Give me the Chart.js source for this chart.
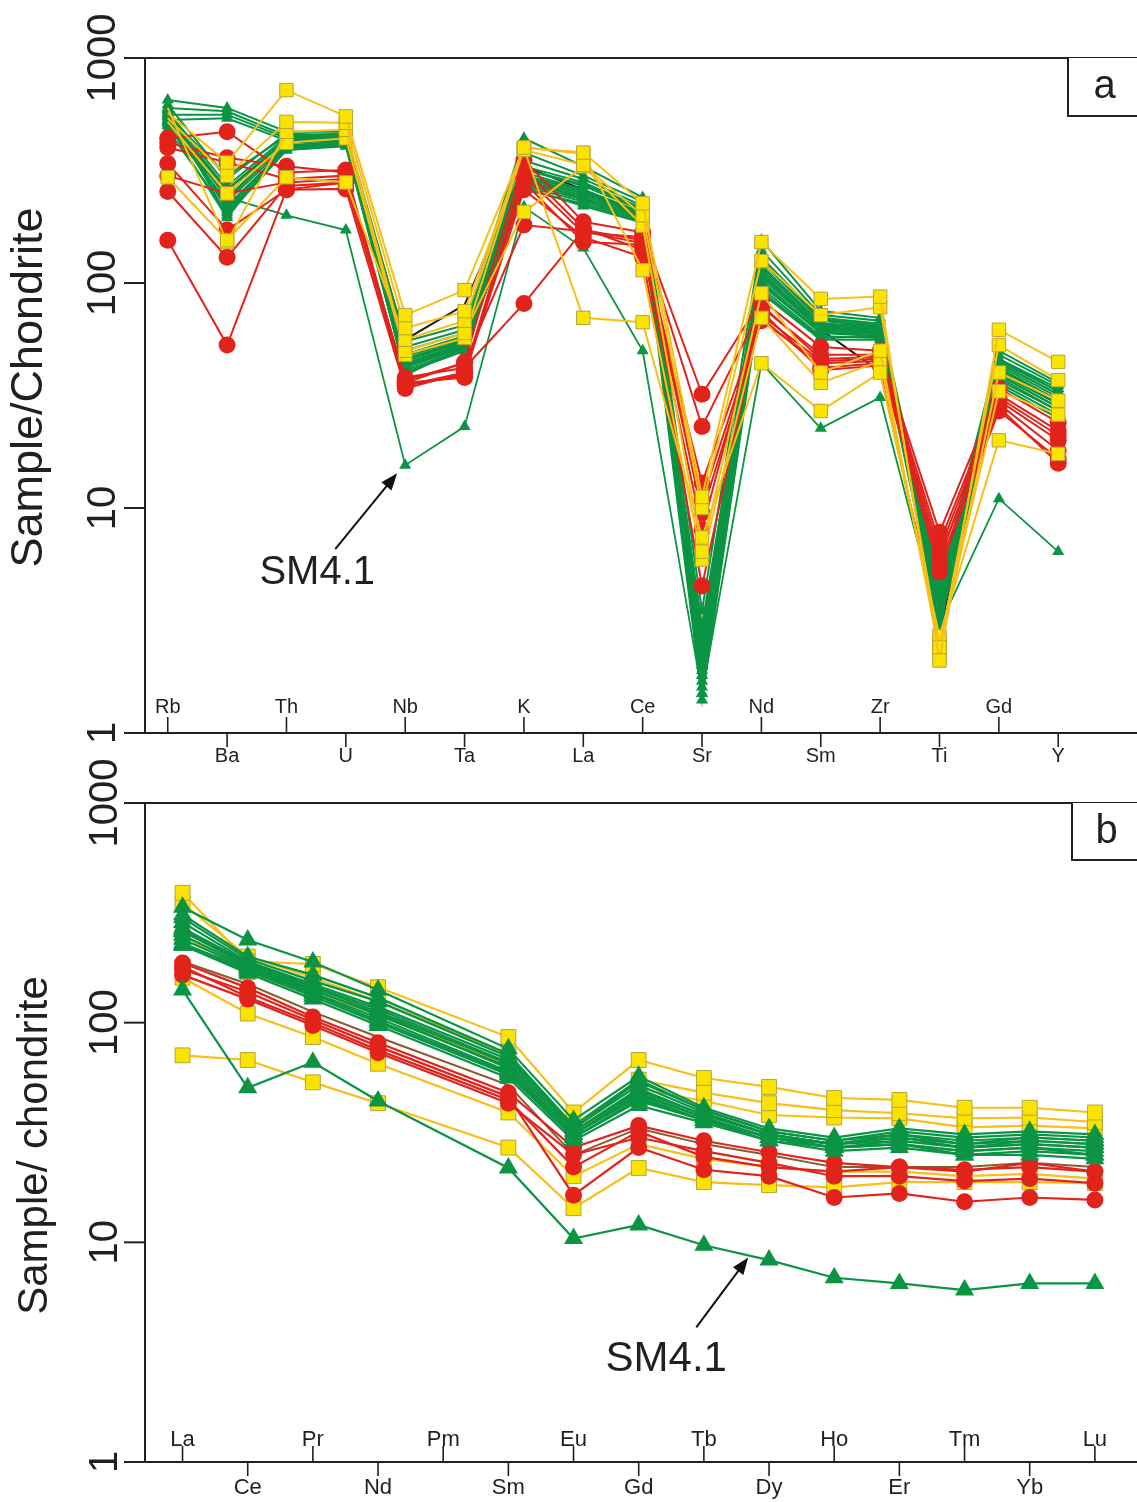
<!DOCTYPE html>
<html>
<head>
<meta charset="utf-8">
<script src="https://cdn.jsdelivr.net/npm/chart.js@4.4.1/dist/chart.umd.min.js"></script>
<style>
  html, body { margin: 0; background: #fff; }
  #wrap { position: relative; width: 1137px; height: 1502px; overflow: hidden; }
  canvas { position: absolute; left: 0; }
  #chartA { top: 0; }
  #chartB { top: 745px; }
</style>
</head>
<body>
<div id="wrap">
  <canvas id="chartA" width="1137" height="790"></canvas>
  <canvas id="chartB" width="1137" height="757"></canvas>
</div>
<script>
// ---- categories / ticks ----
const spiderElements = ['Rb', 'Ba', 'Th', 'U', 'Nb', 'Ta', 'K', 'La', 'Ce', 'Sr', 'Nd', 'Sm', 'Zr', 'Ti', 'Gd', 'Y'];
const reeElements = ['La', 'Ce', 'Pr', 'Nd', 'Pm', 'Sm', 'Eu', 'Gd', 'Tb', 'Dy', 'Ho', 'Er', 'Tm', 'Yb', 'Lu'];
const logTicks = [1, 10, 100, 1000];

// ---- panel a: spider diagram (Rb ... Y) ----
const spiderGreen = [
    [650, 600, 470, 470, 55, 65, 440, 330, 240, 3.5, 155, 75, 70, 4.5, 50, 36],
    [600, 580, 450, 460, 52, 62, 380, 300, 230, 2.8, 140, 72, 68, 4.2, 48, 35],
    [560, 560, 440, 450, 50, 60, 350, 290, 220, 2.5, 130, 70, 66, 4.0, 46, 34],
    [530, 540, 430, 440, 48, 58, 330, 280, 215, 2.2, 125, 68, 64, 3.8, 45, 33],
    [620, 290, 460, 455, 47, 57, 320, 270, 210, 2.0, 120, 66, 63, 3.6, 44, 32],
    [580, 270, 445, 445, 46, 56, 310, 260, 205, 1.9, 115, 65, 62, 3.5, 43, 31],
    [550, 250, 430, 435, 45, 55, 300, 255, 200, 1.8, 110, 64, 61, 3.4, 42, 30],
    [520, 240, 420, 430, 44, 54, 290, 250, 198, 1.7, 108, 63, 60, 3.3, 41, 30],
    [500, 230, 410, 425, 43, 53, 285, 245, 195, 2.1, 105, 62, 60, 3.2, 40, 29],
    [540, 220, 400, 420, 42, 52, 280, 240, 192, 2.4, 100, 61, 59, 3.1, 39, 28],
    [600, 210, 395, 415, 41, 51, 275, 235, 190, 1.5, 98, 60, 58, 3.0, 38, 27],
    [570, 200, 390, 410, 40, 50, 270, 230, 188, 2.6, 95, 58, 57, 3.4, 37, 27],
    [510, 195, 420, 440, 39, 52, 260, 225, 186, 1.4, 92, 57, 58, 3.6, 36, 26],
    [560, 260, 435, 450, 45, 56, 300, 260, 205, 3.0, 118, 66, 64, 3.9, 44, 32],
    [590, 235, 425, 430, 43, 54, 295, 250, 200, 1.6, 112, 63, 61, 3.7, 42, 30],
    [530, 215, 405, 420, 42, 53, 285, 238, 193, 2.0, 102, 60, 60, 3.2, 39, 28],
    [480, 205, 390, 405, 40, 50, 265, 220, 185, 2.3, 90, 56, 56, 3.0, 35, 25],
    [560, 300, 450, 460, 48, 58, 320, 275, 212, 1.8, 128, 69, 65, 4.1, 46, 33]
];
const spiderSM41 = [520, 240, 200, 172, 15.5, 23, 218, 143, 50, 1.5, 44, 22.6, 31, 3.0, 11, 6.4];
const spiderRed = [
    [440, 470, 310, 318, 36, 44.5, 352, 187, 168, 32, 84, 52, 50, 7.8, 34, 24],
    [400, 343, 290, 300, 35, 40, 300, 167, 160, 23, 78, 48, 48, 7.0, 32, 22],
    [340, 172, 260, 262, 34, 40, 280, 152, 148, 12.9, 72, 45, 46, 6.0, 30, 20],
    [255, 130, 270, 280, 37, 44, 181, 170, 150, 10.8, 70, 42, 44, 6.0, 29, 18],
    [155, 53, 260, 280, 38, 42, 81, 172, 155, 9.5, 68, 44, 45, 5.2, 28, 15.8],
    [420, 360, 330, 310, 36, 38, 320, 175, 140, 8, 80, 46, 47, 6.5, 31, 21],
    [300, 250, 280, 290, 35, 39, 260, 160, 130, 4.5, 75, 41, 43, 5.6, 27, 16.5]
];
const spiderYellow = [
    [570, 343, 720, 550, 72, 93, 400, 380, 226, 11.2, 152, 85, 87, 2.1, 62, 44.6],
    [540, 300, 520, 515, 63, 75, 390, 335, 200, 10, 125, 72, 78, 2.4, 53, 37],
    [295, 155, 295, 280, 56, 68, 395, 70, 67, 7.4, 44, 27, 40, 2.7, 20, 17.4],
    [600, 152, 470, 480, 50, 60, 207, 330, 180, 6.4, 90, 40, 50, 2.3, 40, 30],
    [520, 250, 420, 440, 48, 57, 400, 375, 114, 5.9, 70, 36, 45, 2.5, 33, 26]
];
const spiderBlack = [540, 260, 430, 440, 56, 80, 330, 260, 200, 2.5, 110, 62, 40.5, 2.8, 40, 29];

// ---- panel b: REE pattern (La ... Lu, Pm not analysed) ----
const reeGreen = [
    [335, 238, 189, 141, null, 76, 36, 57, 41, 33, 30, 33, 31, 32, 31],
    [310, 200, 165, 130, null, 72, 34, 55, 40, 32, 29, 32, 30, 31, 30],
    [286, 190, 150, 118, null, 68, 33, 52, 39, 31, 28, 31, 28, 30, 29],
    [264, 185, 145, 112, null, 65, 32, 50, 38, 31, 28, 30, 27, 29, 28],
    [250, 180, 140, 110, null, 62, 31, 48, 37, 30, 27, 29, 27, 28, 27],
    [240, 178, 137, 105, null, 60, 31, 46, 36, 30, 27, 28, 26, 27, 26],
    [225, 172, 132, 100, null, 58, 30, 44, 36, 29, 27, 28, 25, 26, 25],
    [225, 168, 128, 97, null, 56, 29, 42, 35, 29, 26, 27, 25, 25, 24],
    [300, 195, 155, 125, null, 70, 33, 54, 40, 32, 29, 31, 29, 30, 29],
    [270, 188, 147, 115, null, 66, 32, 49, 38, 31, 28, 30, 28, 29, 28],
    [230, 175, 135, 102, null, 59, 30, 45, 36, 30, 27, 28, 26, 27, 25],
    [260, 183, 142, 108, null, 63, 31, 47, 37, 30, 28, 29, 27, 28, 27]
];
const reeSM41 = [141, 50.5, 66, 44, null, 21.8, 10.4, 12, 9.7, 8.3, 6.9, 6.5, 6.06, 6.5, 6.5];
const reeRed = [
    [187, 144, 106, 81, null, 48, 27, 34, 29, 25.7, 23, 22, 21.4, 22, 21],
    [180, 131, 100, 75, null, 44.5, 22, 32, 24.5, 22, 21, 22, 21, 23, 21],
    [175, 138, 103, 78, null, 46, 16.4, 27, 21.4, 20, 16, 16.7, 15.3, 16, 15.6],
    [165, 128, 97, 73, null, 43, 25, 30, 26, 23, 20, 20, 19, 19.5, 18.6]
];
const reeYellow = [
    [390, 190, 185, 145, null, 86, 39, 67.6, 56, 51, 45.4, 44.5, 41, 41, 39],
    [350, 200, 160, 125, null, 72, 33, 55, 48, 43, 40, 38.7, 36.7, 37, 35.3],
    [250, 170, 135, 110, null, 64, 31, 50, 44, 38, 37, 36.7, 33.4, 34, 33],
    [160, 110, 86, 65, null, 39, 20, 28, 24, 22, 21, 21, 20, 20.5, 19.5],
    [71, 67.6, 53.5, 43, null, 27, 14.3, 21.8, 18.8, 18.2, 17.8, 18.8, 18.8, 18.8, 18.6]
];
const reeBrown = [190, 150, 112, 86, null, 52, 25, 33, 28, 25, 22, 22, 22, 23, 22];

// ---- styling ----
const GREEN = '#0a9444';
const RED = '#e2231c';
const YELLOW = '#fbe300';
const YELLOW_LINE = '#f7bf17';
const INK = '#231f20';
const FONT = '"Liberation Sans", Arial, Helvetica, sans-serif';

function toPoints(vals) {
    return vals.map((v, i) => (v == null ? null : { x: i, y: v })).filter(Boolean);
}

function makeSets(rows, style) {
    return rows.map(r => Object.assign({ data: toPoints(r) }, style));
}

function arrow(ctx, x0, y0, x1, y1) {
    const a = Math.atan2(y1 - y0, x1 - x0), L = 17, W = 6.5;
    ctx.beginPath();
    ctx.moveTo(x0, y0);
    ctx.lineTo(x1 - L * 0.8 * Math.cos(a), y1 - L * 0.8 * Math.sin(a));
    ctx.stroke();
    ctx.beginPath();
    ctx.moveTo(x1, y1);
    ctx.lineTo(x1 - L * Math.cos(a) + W * Math.sin(a), y1 - L * Math.sin(a) - W * Math.cos(a));
    ctx.lineTo(x1 - L * Math.cos(a) - W * Math.sin(a), y1 - L * Math.sin(a) + W * Math.cos(a));
    ctx.closePath();
    ctx.fill();
}

// axes, tick marks, labels, panel letter and SM4.1 note
const framePlugin = {
    id: 'frame',
    beforeDatasetsDraw(chart, args, o) {
        const { ctx, chartArea: a, scales: { x, y } } = chart;
        ctx.save();
        ctx.strokeStyle = INK;
        ctx.fillStyle = INK;
        ctx.lineWidth = 2;
        ctx.beginPath();
        ctx.moveTo(chart.width, a.top);
        ctx.lineTo(a.left, a.top);
        ctx.lineTo(a.left, a.bottom);
        ctx.lineTo(chart.width, a.bottom);
        ctx.stroke();

        // log ticks on the left, labels rotated
        ctx.font = '40px ' + FONT;
        ctx.textAlign = 'center';
        ctx.textBaseline = 'middle';
        logTicks.forEach(v => {
            const py = y.getPixelForValue(v);
            ctx.beginPath();
            ctx.moveTo(a.left - 21, py);
            ctx.lineTo(a.left, py);
            ctx.stroke();
            ctx.save();
            ctx.translate(o.tickX, py);
            ctx.rotate(-Math.PI / 2);
            ctx.fillText(String(v), 0, 0);
            ctx.restore();
        });

        // axis title
        ctx.save();
        ctx.translate(o.titleX, (a.top + a.bottom) / 2 + o.titleDy);
        ctx.rotate(-Math.PI / 2);
        ctx.font = o.titleSize + 'px ' + FONT;
        ctx.fillText(o.title, 0, 0);
        ctx.restore();

        // element ticks, alternating up / down
        ctx.lineWidth = 1.6;
        ctx.font = o.catSize + 'px ' + FONT;
        o.cats.forEach((c, i) => {
            const px = x.getPixelForValue(i);
            const up = i % 2 === 0;
            ctx.beginPath();
            ctx.moveTo(px, a.bottom);
            ctx.lineTo(px, a.bottom + (up ? -16 : 14));
            ctx.stroke();
            ctx.fillText(c, px, a.bottom + (up ? o.upDy : o.downDy));
        });
        ctx.restore();
    },
    afterDraw(chart, args, o) {
        const { ctx, chartArea: a, scales: { x, y } } = chart;
        ctx.save();
        ctx.strokeStyle = INK;
        ctx.fillStyle = '#fff';
        ctx.lineWidth = 2;
        ctx.fillRect(o.boxLeft, a.top, chart.width - o.boxLeft + 2, o.boxH);
        ctx.beginPath();
        ctx.moveTo(o.boxLeft, a.top);
        ctx.lineTo(o.boxLeft, a.top + o.boxH);
        ctx.lineTo(chart.width, a.top + o.boxH);
        ctx.stroke();
        ctx.fillStyle = INK;
        ctx.font = '40px ' + FONT;
        ctx.textAlign = 'center';
        ctx.textBaseline = 'middle';
        ctx.fillText(o.letter, (o.boxLeft + chart.width) / 2 + 2, a.top + o.boxH / 2);

        // SM4.1 arrow anchored on the sample's line
        const n = o.note;
        const tx = x.getPixelForValue(n.at) + n.dx;
        const ty = y.getPixelForValue(n.value) + n.dy;
        ctx.strokeStyle = '#111';
        ctx.fillStyle = '#111';
        ctx.lineWidth = 2;
        arrow(ctx, tx + n.tailX, ty + n.tailY, tx, ty);
        ctx.fillStyle = INK;
        ctx.font = n.size + 'px ' + FONT;
        ctx.fillText('SM4.1', tx + n.textX, ty + n.textY);
        ctx.restore();
    }
};

function buildChart(id, datasets, xMin, xMax, padBottom, frame) {
    return new Chart(document.getElementById(id), {
        type: 'line',
        data: { datasets },
        options: {
            responsive: false,
            animation: false,
            events: [],
            layout: { padding: { left: 145, top: 58, right: 0, bottom: padBottom } },
            elements: { line: { tension: 0, fill: false } },
            scales: {
                x: { type: 'linear', min: xMin, max: xMax, display: false },
                y: { type: 'logarithmic', min: 1, max: 1000, display: false }
            },
            plugins: { legend: { display: false }, tooltip: { enabled: false }, frame }
        },
        plugins: [framePlugin]
    });
}

// ---- panel a ----
const greenA = { borderColor: GREEN, backgroundColor: GREEN, borderWidth: 2, pointStyle: 'triangle', pointRadius: 7, pointBorderWidth: 0, clip: false, order: 3 };
const redA = { borderColor: RED, backgroundColor: RED, borderWidth: 2, pointStyle: 'circle', pointRadius: 8.5, pointBorderWidth: 0, clip: false, order: 2 };
// Rb squares of the samples sitting inside the green cluster are hidden under it in the original
const yellowA = {
    borderColor: YELLOW_LINE, backgroundColor: YELLOW, pointBorderColor: '#b6a33c', pointBorderWidth: 1, pointStyle: 'rect',
    pointRadius: c => (c.dataIndex === 0 && c.raw && c.raw.y > 400 ? 0 : 9.5),
    borderWidth: 2, clip: false, order: 1
};

buildChart('chartA', [
    ...makeSets(spiderYellow, yellowA),
    ...makeSets(spiderRed, redA),
    ...makeSets(spiderGreen, greenA),
    Object.assign({ data: toPoints(spiderSM41) }, greenA, { borderWidth: 1.8 }),
    { data: toPoints(spiderBlack), borderColor: '#1b1b1b', borderWidth: 2, pointRadius: 0, order: 4 }
], -0.383, 16.15, 57, {
    cats: spiderElements, title: 'Sample/Chondrite', titleSize: 45, titleX: 30, titleDy: -8,
    tickX: 104, catSize: 20, upDy: -26, downDy: 23, letter: 'a', boxLeft: 1068, boxH: 58,
    note: { at: 4, value: spiderSM41[4], dx: -8, dy: 8, tailX: -62, tailY: 76, textX: -80, textY: 100, size: 40 }
});

// ---- panel b ----
const greenB = { borderColor: GREEN, backgroundColor: GREEN, borderWidth: 2.2, pointStyle: 'triangle', pointRadius: 11, pointBorderWidth: 0, clip: false, order: 1 };
const redB = { borderColor: RED, backgroundColor: RED, borderWidth: 2.2, pointStyle: 'circle', pointRadius: 8.5, pointBorderWidth: 0, clip: false, order: 2 };
const yellowB = { borderColor: YELLOW_LINE, backgroundColor: YELLOW, pointBorderColor: '#b6a33c', pointBorderWidth: 1, pointStyle: 'rect', pointRadius: 10.5, borderWidth: 2.2, clip: false, order: 3 };

// point on SM4.1 line between Tb and Dy where the arrow lands
const noteAt = 8.62;
const noteVal = Math.pow(10, Math.log10(reeSM41[8]) + (noteAt - 8) * (Math.log10(reeSM41[9]) - Math.log10(reeSM41[8])));

buildChart('chartB', [
    ...makeSets(reeGreen, greenB),
    ...makeSets(reeRed, redB),
    ...makeSets(reeYellow, yellowB),
    Object.assign({ data: toPoints(reeSM41) }, greenB),
    { data: toPoints(reeBrown), borderColor: '#8a5a2b', borderWidth: 2, pointRadius: 0, order: 4 }
], -0.576, 14.47, 40, {
    cats: reeElements, title: 'Sample/ chondrite', titleSize: 42, titleX: 35, titleDy: 13,
    tickX: 106, catSize: 22, upDy: -22, downDy: 26, letter: 'b', boxLeft: 1072, boxH: 57,
    note: { at: noteAt, value: noteVal, dx: 4, dy: 3, tailX: -52, tailY: 70, textX: -82, textY: 102, size: 42 }
});
</script>
</body>
</html>
